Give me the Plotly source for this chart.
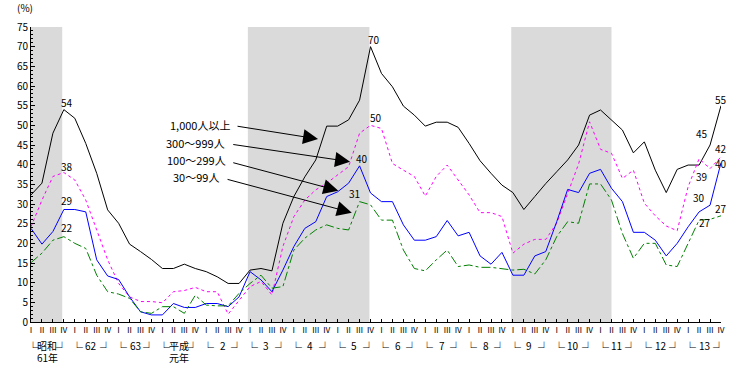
import plotly.graph_objects as go

# ---------------- data ----------------
quarters = ["Ⅰ", "Ⅱ", "Ⅲ", "Ⅳ"]
year_top = ["昭和", "62", "63", "平成", "2", "3", "4", "5", "6", "7", "8", "9", "10", "11", "12", "13"]
year_bottom = ["61年", "", "", "元年", "", "", "", "", "", "", "", "", "", "", "", ""]

# shaded periods (quarter index start, end)
shade_start = [-0.25, 19.8, 43.85]
shade_end = [2.85, 30.9, 53.0]

s_1000 = [32.3, 35.3, 48, 54, 51.8, 45.4, 37.8, 28.5, 25.1, 19.8,
          17.9, 15.9, 13.6, 13.6, 14.7, 13.6, 12.8, 11.5, 9.8, 9.8,
          13.2, 13.6, 13, 25.1, 31.9, 36.9, 41.2, 49.8, 49.8, 51.4,
          56.4, 70, 63.2, 59.8, 54.9, 52.6, 49.8, 50.8, 50.8, 49.5,
          45.4, 41, 37.8, 34.8, 32.9, 28.6, 31.9, 35.2, 38.2, 41.2,
          45, 52.6, 53.9, 51.4, 48.8, 43, 45.8, 38.6, 32.9, 38.8,
          39.9, 39.9, 45, 55]
s_300 = [24.2, 31, 37, 38, 36.1, 31, 23.4, 15.8, 9.8, 6.4,
         5.2, 5.2, 4.9, 7.7, 8, 8.8, 7.7, 7.7, 2, 5.6,
         9, 10.3, 6.9, 19.2, 26.8, 31, 33.6, 35.3, 37.4, 39.5,
         48, 50, 49.2, 40.3, 38.6, 37, 32, 37, 39.9, 36.1,
         32.3, 27.8, 27.8, 26.8, 17.5, 19.8, 21, 21, 25.1, 32.7,
         40.2, 50.9, 43.9, 42.9, 36.5, 38.6, 30.2, 27, 24.4, 23.2,
         34.4, 41.5, 39, 42]
s_100 = [23.8, 19.8, 23, 28.6, 28.6, 28, 15.8, 11.7, 10.8, 6.4,
         2.6, 1.8, 1.8, 4.7, 3.7, 3.7, 4.7, 4.7, 3.9, 6.4,
         12.8, 10.7, 7.7, 13.2, 19.2, 23.8, 25.5, 31.9, 33.1, 35.3,
         39.7, 32.8, 30.6, 30.6, 24.7, 20.8, 20.8, 21.7, 25.8, 21.9,
         22.8, 16.8, 14.7, 17.7, 11.9, 11.9, 16.8, 17.9, 25.5, 33.7,
         32.9, 37.8, 38.8, 34, 30.6, 22.8, 22.8, 20.8, 16.8, 20,
         24.2, 28, 29.7, 40.5]
s_30 = [15.1, 17.5, 20.8, 21.7, 20, 18.7, 11.9, 7.7, 7.1, 6,
        2.6, 2.2, 3.9, 3.9, 2.2, 6.8, 4.3, 4.1, 4.1, 7.3,
        9.8, 11.9, 8.6, 9, 18.3, 21.3, 23.4, 24.7, 23.8, 23.4,
        30.6, 29.8, 25.9, 25.9, 18.3, 13.6, 13, 15.8, 18.3, 14.1,
        14.5, 13.9, 13.9, 13.6, 13.2, 13.4, 12.2, 15.8, 21.7, 25.5,
        25.1, 35.1, 35.1, 31, 22.5, 16.2, 20, 20, 14.5, 14.1,
        20, 25.9, 26.1, 27]

series_names = ["1,000人以上", "300～999人", "100～299人", "30～99人"]
series_values = [s_1000, s_300, s_100, s_30]
series_colors = ["#000000", "#ff00ff", "#0000ff", "#008000"]
series_dash = ["solid", "dot", "solid", "dashdot"]

# value labels: (text, x, y)
value_labels = [("54", 3.26, 55.7), ("38", 3.26, 39.5), ("29", 3.26, 31.0), ("22", 3.26, 23.9),
                ("70", 31.3, 71.9), ("50", 31.5, 51.9), ("40", 30.2, 41.6), ("31", 29.5, 32.7),
                ("55", 63.0, 56.6), ("45", 61.25, 48.0), ("42", 63.0, 44.2), ("40", 63.0, 40.3),
                ("39", 61.25, 36.9), ("30", 61.0, 31.7), ("27", 63.0, 28.9), ("27", 61.5, 25.3)]

FONT = "Noto Sans CJK JP"
n = len(s_1000)
xs = list(range(n))

fig = go.Figure()
for name, vals, col, dash in zip(series_names, series_values, series_colors, series_dash):
    fig.add_trace(go.Scatter(x=xs, y=vals, mode="lines", name=name, hoverinfo="skip",
                             line=dict(color=col, width=1, dash=dash)))

shapes = []
for a, b in zip(shade_start, shade_end):
    shapes.append(dict(type="rect", xref="x", yref="y", x0=a, x1=b, y0=0, y1=75,
                       fillcolor="#dadada", line=dict(width=0), layer="below"))

annotations = []
for t, x, y in value_labels:
    annotations.append(dict(x=x, y=y, text=t, showarrow=False, xref="x", yref="y",
                            font=dict(size=10, color="black", family=FONT)))

# legend texts with arrows
legend_text_pos = [(18.36, 50.1), (17.93, 45.6), (18.0, 41.2), (17.35, 36.9)]
arrow_tail = [(18.72, 49.83), (18.33, 45.18), (18.33, 40.6), (17.81, 36.36)]
arrow_tip = [(26.21, 46.53), (29.13, 40.76), (28.06, 33.38), (29.29, 27.79)]
for name, (tx, ty), (ax, ay), (hx, hy) in zip(series_names, legend_text_pos, arrow_tail, arrow_tip):
    annotations.append(dict(x=tx, y=ty, text=name, showarrow=False, xanchor="right",
                            xref="x", yref="y", font=dict(size=11, color="black", family=FONT)))
    annotations.append(dict(x=hx, y=hy, ax=ax, ay=ay, xref="x", yref="y", axref="x", ayref="y",
                            text="", showarrow=True, arrowhead=2, arrowsize=3, arrowwidth=1,
                            arrowcolor="black", standoff=0, startstandoff=0))

# year labels with brackets (paper y below the axis)
for k, (top, bot) in enumerate(zip(year_top, year_bottom)):
    i0 = 4 * k
    annotations.append(dict(x=i0, y=-0.085, text="└", showarrow=False, xref="x", yref="paper",
                            xanchor="left", yanchor="middle", xshift=-6,
                            font=dict(size=12, color="black", family=FONT)))
    annotations.append(dict(x=i0 + 3, y=-0.085, text="┘", showarrow=False, xref="x", yref="paper",
                            xanchor="right", yanchor="middle", xshift=6,
                            font=dict(size=12, color="black", family=FONT)))
    annotations.append(dict(x=i0 + 1.5, y=-0.081, text=top, showarrow=False, xref="x", yref="paper",
                            xanchor="center", yanchor="middle",
                            font=dict(size=10, color="black", family=FONT)))
    if bot:
        annotations.append(dict(x=i0 + 1.5, y=-0.12, text=bot, showarrow=False, xref="x", yref="paper",
                                xanchor="center", yanchor="middle",
                                font=dict(size=10, color="black", family=FONT)))

annotations.append(dict(x=-0.009, y=1.067, xref="paper", yref="paper", text="(%)",
                        xanchor="center", yanchor="middle",
                        showarrow=False, font=dict(size=10, color="black", family=FONT)))

fig.update_layout(
    width=743, height=366,
    margin=dict(l=31, r=22, t=27, b=44, autoexpand=False),
    paper_bgcolor="white", plot_bgcolor="white",
    showlegend=False, hovermode=False,
    shapes=shapes, annotations=annotations,
    font=dict(family=FONT, size=10, color="black"),
)
fig.update_xaxes(range=[0, 63], tickvals=xs, ticktext=[quarters[i % 4] for i in xs],
                 tickangle=0, automargin=False,
                 showgrid=False, zeroline=False, showline=True, linecolor="black", linewidth=1,
                 ticks="inside", ticklen=3, tickcolor="black", tickfont=dict(size=8, family=FONT))
fig.update_yaxes(range=[0, 75], tickvals=list(range(0, 76, 5)), automargin=False,
                 showgrid=False, zeroline=False, showline=True, linecolor="black", linewidth=1,
                 ticks="inside", ticklen=4, tickcolor="black", tickfont=dict(size=10, family=FONT),
                 minor=dict(dtick=1, ticks="inside", ticklen=2, tickcolor="black"))

fig.write_html("out.html", config={"displayModeBar": False},
               post_script="document.body.style.margin='0';document.body.style.overflow='hidden';")
